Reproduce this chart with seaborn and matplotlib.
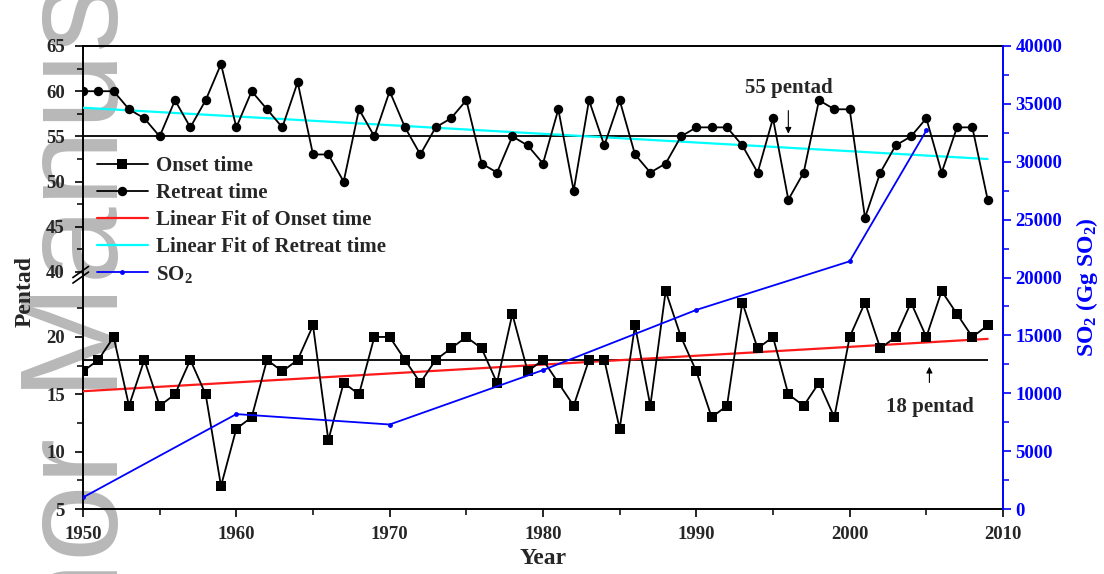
import numpy as np
import pandas as pd
import seaborn as sns
import matplotlib
matplotlib.use("Agg")
import matplotlib.pyplot as plt

# ---- data -------------------------------------------------------------
years = list(range(1950, 2010))
onset = [17, 18, 20, 14, 18, 14, 15, 18, 15, 7,
         12, 13, 18, 17, 18, 21, 11, 16, 15, 20,
         20, 18, 16, 18, 19, 20, 19, 16, 22, 17,
         18, 16, 14, 18, 18, 12, 21, 14, 24, 20,
         17, 13, 14, 23, 19, 20, 15, 14, 16, 13,
         20, 23, 19, 20, 23, 20, 24, 22, 20, 21]
retreat = [60, 60, 60, 58, 57, 55, 59, 56, 59, 63,
           56, 60, 58, 56, 61, 53, 53, 50, 58, 55,
           60, 56, 53, 56, 57, 59, 52, 51, 55, 54,
           52, 58, 49, 59, 54, 59, 53, 51, 52, 55,
           56, 56, 56, 54, 51, 57, 48, 51, 59, 58,
           58, 46, 51, 54, 55, 57, 51, 56, 56, 48]
so2_years = [1950, 1960, 1970, 1980, 1990, 2000, 2005]
so2 = [1000, 8200, 7300, 12000, 17200, 21400, 32700]
onset_mean_ref = 18
retreat_mean_ref = 55

df = pd.DataFrame({"year": years, "onset": onset, "retreat": retreat})
df_so2 = pd.DataFrame({"year": so2_years, "so2": so2})

# ---- style ------------------------------------------------------------
sns.set_theme(style="white")
plt.rcParams["font.family"] = ["Liberation Serif", "DejaVu Serif"]
plt.rcParams["font.weight"] = "bold"
plt.rcParams["mathtext.fontset"] = "custom"
plt.rcParams["mathtext.rm"] = "Liberation Serif:bold"
plt.rcParams["mathtext.default"] = "rm"

BLUE = "#0000ff"
TICK_FS = 13.5

fig = plt.figure(figsize=(11.04, 5.74), dpi=100, facecolor="white")

# watermark running up the left margin, behind everything else
fig.text(118 / 1104, 1 - 847 / 574, "Author Manuscript", rotation=90,
         rotation_mode="anchor", ha="left", va="baseline", fontsize=100,
         family="Liberation Sans", weight="normal", color="#b8b8b8",
         zorder=-5)

ax = fig.add_axes([83 / 1104, 1 - 509 / 574, 920 / 1104, 463 / 574])
ax.set_facecolor("none")

# broken y axis: 5-25 (lower block) and 40-65 (upper block)
def _fwd(y):
    y = np.asarray(y, dtype=float)
    lo = (y - 5) * 11.47
    mid = 229.4 + (y - 25) * (237 - 229.4) / 15
    up = 237 + (y - 40) * 9.04
    return np.where(y <= 25, lo, np.where(y >= 40, up, mid))


def _inv(p):
    p = np.asarray(p, dtype=float)
    lo = 5 + p / 11.47
    mid = 25 + (p - 229.4) * 15 / (237 - 229.4)
    up = 40 + (p - 237) / 9.04
    return np.where(p <= 229.4, lo, np.where(p >= 237, up, mid))


ax.set_yscale("function", functions=(_fwd, _inv))
ax.set_ylim(5, 65)
ax.set_xlim(1950, 2010)

# reference levels
ax.hlines([retreat_mean_ref, onset_mean_ref], years[0], years[-1],
          colors="black", lw=1.3, zorder=2)

# series
sns.lineplot(data=df, x="year", y="onset", ax=ax, color="black", lw=1.3,
             marker="s", markersize=6.5, markeredgewidth=0,
             label="Onset time", zorder=4)
sns.lineplot(data=df, x="year", y="retreat", ax=ax, color="black", lw=1.3,
             marker="o", markersize=6.8, markeredgewidth=0,
             label="Retreat time", zorder=4)
sns.regplot(data=df, x="year", y="onset", ax=ax, scatter=False, ci=None,
            truncate=True, color="#ff1a1a", label="Linear Fit of Onset time",
            line_kws=dict(lw=1.6, zorder=3))
sns.regplot(data=df, x="year", y="retreat", ax=ax, scatter=False, ci=None,
            truncate=True, color="#00ffff", label="Linear Fit of Retreat time",
            line_kws=dict(lw=1.6, zorder=3))

ax.set_yticks([5, 10, 15, 20, 40, 45, 50, 55, 60, 65])
ax.set_yticks([7.5, 12.5, 17.5, 22.5, 42.5, 47.5, 52.5, 57.5, 62.5], minor=True)
ax.set_xticks(range(1950, 2011, 10))
ax.set_xticks(range(1955, 2010, 10), minor=True)
ax.tick_params(axis="both", which="major", direction="out", length=6,
               width=1.2, color="black", labelsize=TICK_FS,
               left=True, bottom=True)
ax.tick_params(axis="y", which="major", pad=7)
ax.tick_params(axis="x", which="major", pad=6)
ax.tick_params(axis="both", which="minor", direction="out", length=4,
               width=1.1, color="black", left=True, bottom=True)
for lab in ax.get_xticklabels() + ax.get_yticklabels():
    lab.set_fontweight("bold")

for side in ["left", "bottom", "top"]:
    ax.spines[side].set_color("black")
    ax.spines[side].set_linewidth(1.4)
ax.spines["right"].set_visible(False)

ax.set_xlabel("Year", fontsize=17, fontweight="bold", labelpad=4)
ax.set_ylabel("Pentad", fontsize=17, fontweight="bold")
ax.yaxis.set_label_coords(-0.052, 0.47)

# break marks on the left spine
brk_y = float(_fwd(40)) / 463
for dy in (-0.012, 0.0):
    ax.plot([-0.011, 0.006], [brk_y + dy - 0.012, brk_y + dy + 0.012],
            transform=ax.transAxes, color="black", lw=1.2, clip_on=False,
            zorder=6)

# annotations
ax.annotate("55 pentad", xy=(1996, retreat_mean_ref + 0.3), xytext=(1996, 60.4),
            ha="center", va="center", fontsize=15, fontweight="bold",
            arrowprops=dict(arrowstyle="-|>", color="black", lw=0.8,
                            mutation_scale=9, shrinkA=7, shrinkB=0))
ax.annotate("18 pentad", xy=(2005.2, 17.4), xytext=(2005.2, 13.9),
            ha="center", va="center", fontsize=15, fontweight="bold",
            arrowprops=dict(arrowstyle="-|>", color="black", lw=0.8,
                            mutation_scale=9, shrinkA=8, shrinkB=0))

# SO2 on the right axis
ax2 = ax.twinx()
ax2.set_facecolor("none")
sns.lineplot(data=df_so2, x="year", y="so2", ax=ax2, color=BLUE, lw=1.3,
             marker="o", markersize=3.5, markeredgewidth=0,
             label="SO$_2$", zorder=3)
ax2.set_ylim(0, 40000)
ax2.set_yticks(range(0, 40001, 5000))
ax2.set_yticks(range(2500, 40000, 5000), minor=True)
ax2.tick_params(axis="y", which="major", direction="out", length=6, width=1.2,
                color=BLUE, labelcolor=BLUE, labelsize=TICK_FS, pad=3,
                right=True)
ax2.tick_params(axis="y", which="minor", direction="out", length=4, width=1.1,
                color=BLUE, right=True)
for lab in ax2.get_yticklabels():
    lab.set_fontweight("bold")
for side in ["left", "bottom", "top"]:
    ax2.spines[side].set_visible(False)
ax2.spines["right"].set_color(BLUE)
ax2.spines["right"].set_linewidth(1.4)
ax2.set_ylabel("SO$_2$ (Gg SO$_2$)", fontsize=17, fontweight="bold",
               color=BLUE)
ax2.yaxis.set_label_coords(1.077, 0.48)

# combined legend
h1, l1 = ax.get_legend_handles_labels()
h2, l2 = ax2.get_legend_handles_labels()
for a in (ax, ax2):
    if a.get_legend() is not None:
        a.get_legend().remove()
order = ["Onset time", "Retreat time", "Linear Fit of Onset time",
         "Linear Fit of Retreat time", "SO$_2$"]
lookup = dict(zip(l1 + l2, h1 + h2))
leg = ax2.legend([lookup[k] for k in order], order, loc="upper left",
                 bbox_to_anchor=(0.006, 0.78), frameon=False, fontsize=15,
                 handlelength=2.45, handletextpad=0.4, labelspacing=0.33,
                 borderpad=0.2, borderaxespad=0.2)
for t in leg.get_texts():
    t.set_fontweight("bold")

fig.savefig("out.png", dpi=100, facecolor="white")
